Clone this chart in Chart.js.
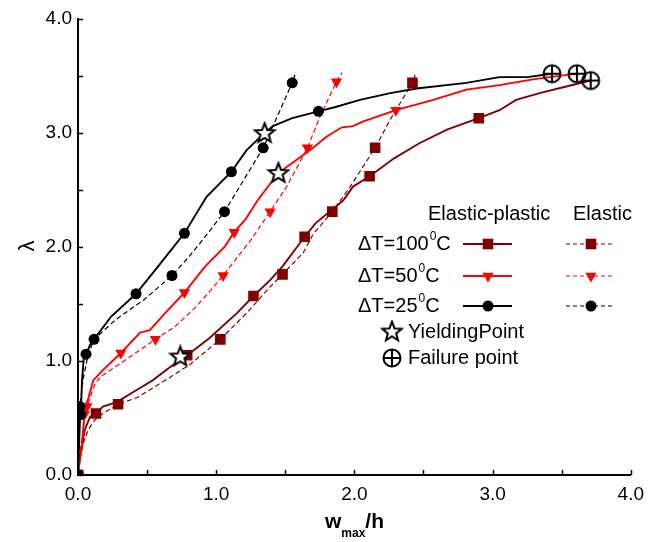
<!DOCTYPE html>
<html>
<head>
<meta charset="utf-8">
<script src="https://cdn.jsdelivr.net/npm/chart.js@4.4.1/dist/chart.umd.min.js"></script>
<style>
  body { margin: 0; background: #fff; }
  #wrap { width: 652px; height: 542px; }
</style>
</head>
<body>
<div id="wrap"><canvas id="chart" width="652" height="542"></canvas></div>
<script>
// curves: [w_max/h, lambda]
const ep100 = [[0,0],[0.002,0.07],[0.027,0.25],[0.05,0.40],[0.087,0.51],[0.13,0.54],[0.18,0.60],[0.28,0.64],[0.43,0.75],[0.54,0.83],[0.66,0.94],[0.74,1.01],[0.79,1.05],[0.95,1.20],[1.15,1.42],[1.27,1.57],[1.39,1.71],[1.48,1.83],[1.64,2.09],[1.72,2.21],[1.92,2.41],[1.99,2.53],[2.11,2.62],[2.29,2.78],[2.47,2.91],[2.67,3.03],[2.90,3.13],[3.05,3.20],[3.17,3.29],[3.34,3.35],[3.54,3.41],[3.71,3.46]];
const ep100Marks = [[0,0],[0.13,0.54],[0.79,1.05],[1.27,1.57],[1.64,2.09],[2.11,2.62],[2.90,3.13]];
const e100 = [[0,0],[0.014,0.13],[0.038,0.28],[0.075,0.40],[0.12,0.48],[0.18,0.54],[0.29,0.62],[0.43,0.68],[0.67,0.86],[0.81,0.97],[1.03,1.19],[1.22,1.42],[1.39,1.65],[1.48,1.76],[1.63,1.95],[1.70,2.11],[1.84,2.31],[1.97,2.53],[2.15,2.87],[2.26,3.12],[2.42,3.44],[2.44,3.51]];
const e100Marks = [[0,0],[0.29,0.62],[1.03,1.19],[1.48,1.76],[1.84,2.31],[2.15,2.87],[2.42,3.44]];

const ep50 = [[0,0],[0.014,0.13],[0.027,0.25],[0.043,0.48],[0.046,0.53],[0.05,0.60],[0.072,0.66],[0.11,0.83],[0.18,0.92],[0.31,1.07],[0.45,1.25],[0.52,1.27],[0.63,1.42],[0.77,1.60],[0.92,1.83],[1.06,2.0],[1.13,2.13],[1.21,2.24],[1.30,2.41],[1.45,2.65],[1.61,2.79],[1.71,2.88],[1.80,2.97],[1.91,3.05],[1.99,3.06],[2.06,3.10],[2.30,3.20],[2.57,3.29],[2.81,3.38],[3.05,3.42],[3.29,3.47],[3.54,3.51],[3.61,3.52]];
const ep50Marks = [[0,0],[0.046,0.53],[0.31,1.07],[0.77,1.60],[1.13,2.13],[1.45,2.65],[2.30,3.20]];
const e50 = [[0,0],[0.007,0.13],[0.027,0.31],[0.05,0.52],[0.065,0.60],[0.12,0.79],[0.16,0.86],[0.32,0.99],[0.56,1.19],[0.70,1.30],[0.85,1.47],[0.96,1.62],[1.05,1.75],[1.14,1.89],[1.25,2.06],[1.39,2.31],[1.51,2.53],[1.66,2.87],[1.75,3.14],[1.87,3.45],[1.91,3.53]];
const e50Marks = [[0,0],[0.065,0.60],[0.56,1.19],[1.05,1.75],[1.39,2.31],[1.66,2.87],[1.87,3.45]];

const ep25 = [[0,0],[0.014,0.48],[0.02,0.53],[0.029,0.83],[0.043,1.04],[0.058,1.06],[0.087,1.14],[0.116,1.19],[0.24,1.39],[0.42,1.59],[0.60,1.86],[0.77,2.12],[0.93,2.44],[1.11,2.66],[1.22,2.85],[1.35,3.0],[1.41,3.06],[1.55,3.13],[1.74,3.19],[1.87,3.23],[2.04,3.29],[2.26,3.35],[2.45,3.39],[2.81,3.44],[3.05,3.49],[3.25,3.49],[3.43,3.52]];
const ep25Marks = [[0,0],[0.02,0.53],[0.058,1.06],[0.42,1.59],[0.77,2.12],[1.11,2.66],[1.74,3.19]];
const e25 = [[0,0],[0.007,0.31],[0.014,0.60],[0.036,0.83],[0.072,1.05],[0.116,1.19],[0.27,1.36],[0.48,1.54],[0.68,1.75],[0.80,1.91],[0.92,2.09],[1.06,2.31],[1.20,2.59],[1.34,2.87],[1.44,3.14],[1.55,3.44],[1.57,3.51]];
const e25Marks = [[0,0],[0.014,0.60],[0.116,1.19],[0.68,1.75],[1.06,2.31],[1.34,2.87],[1.55,3.44]];

const yieldPts = [[0.74,1.04],[1.45,2.65],[1.35,3.0]];
const failPts = [[3.43,3.52],[3.61,3.52],[3.71,3.46]];

const xTicks = [0, 1, 2, 3, 4];
const yTicks = [0, 1, 2, 3, 4];
const minorStep = 0.5;

const FONT = "'Liberation Sans', Arial, sans-serif";
const DARK = "#800000";
const RED = "#ff0000";
const BLACK = "#000000";

const toXY = (pts) => pts.map(([x, y]) => ({ x, y }));

// custom point images
function starImage() {
  const c = document.createElement("canvas");
  c.width = 24;
  c.height = 24;
  const g = c.getContext("2d");
  g.beginPath();
  for (let i = 0; i < 10; i++) {
    const r = i % 2 ? 4.4 : 10.3;
    const a = -Math.PI / 2 + (i * Math.PI) / 5;
    g.lineTo(12 + r * Math.cos(a), 12.5 + r * Math.sin(a));
  }
  g.closePath();
  g.fillStyle = "#fff";
  g.fill();
  g.lineWidth = 2;
  g.lineJoin = "miter";
  g.strokeStyle = "#000";
  g.stroke();
  return c;
}

function failImage() {
  const c = document.createElement("canvas");
  c.width = 22;
  c.height = 22;
  const g = c.getContext("2d");
  g.strokeStyle = "#000";
  g.lineWidth = 2;
  g.beginPath();
  g.arc(11, 11, 8.5, 0, Math.PI * 2);
  g.stroke();
  g.beginPath();
  g.moveTo(11, 2.5);
  g.lineTo(11, 19.5);
  g.moveTo(2.5, 11);
  g.lineTo(19.5, 11);
  g.stroke();
  return c;
}

const STAR = starImage();
const FAIL = failImage();

function curve(pts, color, dashed) {
  return {
    data: toXY(pts),
    showLine: true,
    borderColor: color,
    borderWidth: dashed ? 1.2 : 1.9,
    borderDash: dashed ? [5, 3] : [],
    pointRadius: 0,
    pointHoverRadius: 0,
    tension: 0,
    fill: false,
  };
}

function marks(pts, color, style) {
  const sizes = { rect: 7.5, triangle: 6.5, circle: 5.5 };
  return {
    data: toXY(pts),
    showLine: false,
    pointStyle: style,
    pointRadius: sizes[style],
    pointHoverRadius: sizes[style],
    rotation: style === "triangle" ? 180 : 0,
    backgroundColor: color,
    borderColor: color,
    borderWidth: 0,
  };
}

// legend marker drawing
function drawMarker(ctx, style, x, y, color) {
  ctx.fillStyle = color;
  ctx.beginPath();
  if (style === "rect") {
    ctx.rect(x - 5.3, y - 5.3, 10.6, 10.6);
  } else if (style === "triangle") {
    ctx.moveTo(x - 5.6, y - 3.2);
    ctx.lineTo(x + 5.6, y - 3.2);
    ctx.lineTo(x, y + 6.5);
    ctx.closePath();
  } else {
    ctx.arc(x, y, 5.5, 0, Math.PI * 2);
  }
  ctx.fill();
}

const decor = {
  id: "decor",
  afterDraw(chart) {
    const { ctx, chartArea, scales } = chart;
    const sx = scales.x;
    const sy = scales.y;
    ctx.save();

    // inward tick marks
    ctx.strokeStyle = "#000";
    ctx.lineWidth = 1.5;
    ctx.beginPath();
    for (let v = 0; v <= 4 + 1e-9; v += minorStep) {
      const px = Math.round(sx.getPixelForValue(v)) + 0.5;
      ctx.moveTo(px, chartArea.bottom);
      ctx.lineTo(px, chartArea.bottom - 5);
      const py = Math.round(sy.getPixelForValue(v)) + 0.5;
      ctx.moveTo(chartArea.left, py);
      ctx.lineTo(chartArea.left + 5, py);
    }
    ctx.stroke();

    // axis titles
    ctx.fillStyle = "#000";
    ctx.textBaseline = "alphabetic";
    ctx.textAlign = "left";
    ctx.font = "bold 21px " + FONT;
    let x0 = 325;
    ctx.fillText("w", x0, 528);
    x0 += ctx.measureText("w").width;
    ctx.font = "bold 12px " + FONT;
    ctx.fillText("max", x0, 537);
    x0 += ctx.measureText("max").width;
    ctx.font = "bold 21px " + FONT;
    ctx.fillText("/h", x0, 528);

    ctx.save();
    ctx.translate(28, 246);
    ctx.rotate(-Math.PI / 2);
    ctx.textAlign = "center";
    ctx.textBaseline = "middle";
    ctx.font = "22px " + FONT;
    ctx.fillText("\u03bb", 0, 0);
    ctx.restore();

    // legend
    ctx.font = "20px " + FONT;
    ctx.textBaseline = "middle";
    ctx.fillText("Elastic-plastic", 428, 214);
    ctx.fillText("Elastic", 573, 214);

    const rows = [
      { t: "100", y: 244, color: DARK, style: "rect" },
      { t: "50", y: 276, color: RED, style: "triangle" },
      { t: "25", y: 306, color: BLACK, style: "circle" },
    ];
    rows.forEach((r) => {
      ctx.fillStyle = "#000";
      ctx.font = "20px " + FONT;
      let tx = 358;
      const base = "\u0394T=" + r.t;
      ctx.fillText(base, tx, r.y);
      tx += ctx.measureText(base).width + 1;
      ctx.font = "12px " + FONT;
      ctx.fillText("0", tx, r.y - 7);
      tx += ctx.measureText("0").width;
      ctx.font = "20px " + FONT;
      ctx.fillText("C", tx, r.y);

      ctx.strokeStyle = r.color;
      ctx.lineWidth = 1.9;
      ctx.setLineDash([]);
      ctx.beginPath();
      ctx.moveTo(463, r.y);
      ctx.lineTo(512, r.y);
      ctx.stroke();
      drawMarker(ctx, r.style, 488, r.y, r.color);

      ctx.lineWidth = 1.2;
      ctx.setLineDash([4, 3]);
      ctx.beginPath();
      ctx.moveTo(566, r.y);
      ctx.lineTo(615, r.y);
      ctx.stroke();
      ctx.setLineDash([]);
      drawMarker(ctx, r.style, 591, r.y, r.color);
    });

    ctx.fillStyle = "#000";
    ctx.font = "20px " + FONT;
    ctx.drawImage(STAR, 392 - 12, 332 - 12.5);
    ctx.fillText("YieldingPoint", 408, 332);
    ctx.drawImage(FAIL, 392 - 11, 358 - 11);
    ctx.fillText("Failure point", 408, 358);

    ctx.restore();
  },
};

const datasets = [
  { data: toXY(yieldPts), showLine: false, pointStyle: STAR, pointRadius: 10, pointHoverRadius: 10 },
  { data: toXY(failPts), showLine: false, pointStyle: FAIL, pointRadius: 10, pointHoverRadius: 10 },
  marks(ep25Marks, BLACK, "circle"),
  marks(e25Marks, BLACK, "circle"),
  marks(ep50Marks, RED, "triangle"),
  marks(e50Marks, RED, "triangle"),
  marks(ep100Marks, DARK, "rect"),
  marks(e100Marks, DARK, "rect"),
  curve(ep25, BLACK, false),
  curve(e25, BLACK, true),
  curve(ep50, RED, false),
  curve(e50, RED, true),
  curve(ep100, DARK, false),
  curve(e100, DARK, true),
];

new Chart(document.getElementById("chart"), {
  type: "scatter",
  data: { datasets },
  options: {
    responsive: false,
    animation: false,
    devicePixelRatio: 1,
    layout: { padding: { top: 19, right: 21, bottom: 0, left: 0 } },
    plugins: { legend: { display: false }, tooltip: { enabled: false } },
    scales: {
      x: {
        type: "linear",
        min: 0,
        max: 4,
        afterFit: (s) => { s.height = 67; },
        afterBuildTicks: (s) => { s.ticks = xTicks.map((v) => ({ value: v })); },
        ticks: {
          callback: (v) => v.toFixed(1),
          font: { family: FONT, size: 19 },
          color: "#000",
          padding: 8,
        },
        grid: { display: false, drawTicks: false },
        border: { display: true, color: "#000", width: 2 },
      },
      y: {
        type: "linear",
        min: 0,
        max: 4,
        afterFit: (s) => { s.width = 78; },
        afterBuildTicks: (s) => { s.ticks = yTicks.map((v) => ({ value: v })); },
        ticks: {
          callback: (v) => v.toFixed(1),
          font: { family: FONT, size: 19 },
          color: "#000",
          padding: 6,
        },
        grid: { display: false, drawTicks: false },
        border: { display: true, color: "#000", width: 2 },
      },
    },
  },
  plugins: [decor],
});
</script>
</body>
</html>
